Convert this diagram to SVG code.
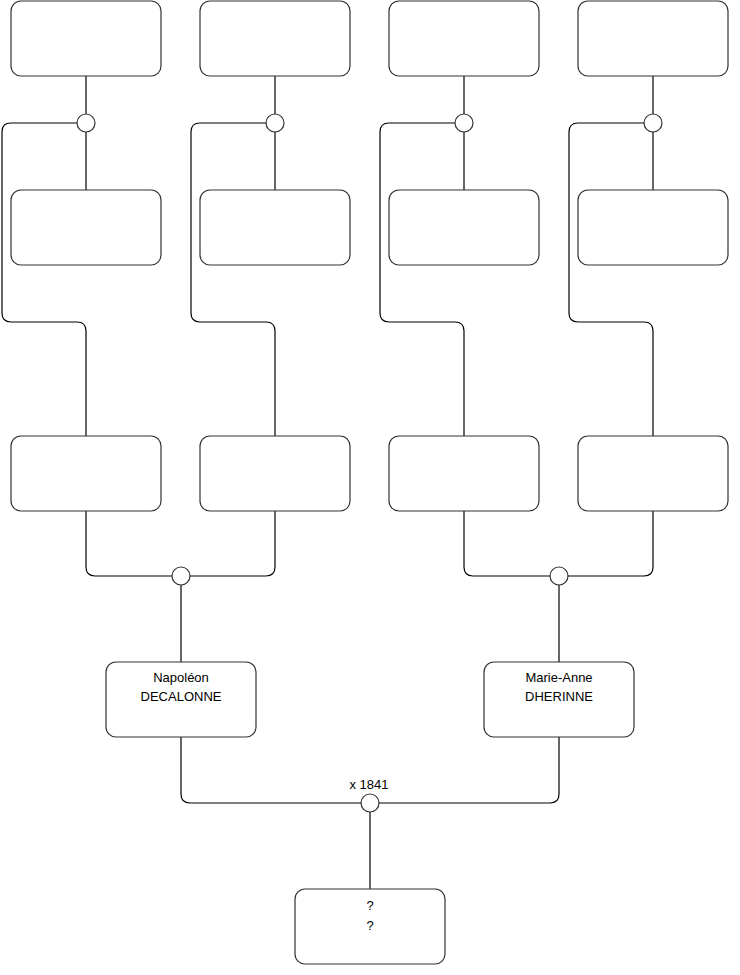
<svg xmlns="http://www.w3.org/2000/svg" width="740" height="975" viewBox="0 0 740 975">
<style>
.box{fill:#fff;stroke:#333;stroke-width:1.2}
.c{fill:#fff;stroke:#333;stroke-width:1.2}
.e{fill:none;stroke:#000;stroke-width:1.2}
text{font-family:"Liberation Sans",Arial,sans-serif;font-size:13px;fill:#000;text-anchor:middle}
</style>
<rect width="740" height="975" fill="#fff"/>
<g id="connectors">
<path class="e" d="M86 76V114"/><path class="e" d="M86 132V190"/>
<path class="e" d="M77 123H11Q2 123 2 132V313Q2 322 11 322H77Q86 322 86 331V436"/>
<path class="e" d="M275 76V114"/><path class="e" d="M275 132V190"/>
<path class="e" d="M266 123H200Q191 123 191 132V313Q191 322 200 322H266Q275 322 275 331V436"/>
<path class="e" d="M464 76V114"/><path class="e" d="M464 132V190"/>
<path class="e" d="M455 123H389Q380 123 380 132V313Q380 322 389 322H455Q464 322 464 331V436"/>
<path class="e" d="M653 76V114"/><path class="e" d="M653 132V190"/>
<path class="e" d="M644 123H578Q569 123 569 132V313Q569 322 578 322H644Q653 322 653 331V436"/>
<path class="e" d="M86 511V567Q86 576 95 576H172"/>
<path class="e" d="M275 511V567Q275 576 266 576H190"/>
<path class="e" d="M181 585V662"/>
<path class="e" d="M464 511V567Q464 576 473 576H550"/>
<path class="e" d="M653 511V567Q653 576 644 576H568"/>
<path class="e" d="M559 585V662"/>
<path class="e" d="M181 737V794Q181 803 190 803H361"/>
<path class="e" d="M559 737V794Q559 803 550 803H379"/>
<path class="e" d="M370 812V889"/>
</g>
<g id="n1"><rect class="box" x="11" y="1" width="150" height="75" rx="10"/></g>
<g id="n2"><rect class="box" x="200" y="1" width="150" height="75" rx="10"/></g>
<g id="n3"><rect class="box" x="389" y="1" width="150" height="75" rx="10"/></g>
<g id="n4"><rect class="box" x="578" y="1" width="150" height="75" rx="10"/></g>
<g id="u1"><circle class="c" cx="86" cy="123" r="9"/></g>
<g id="u2"><circle class="c" cx="275" cy="123" r="9"/></g>
<g id="u3"><circle class="c" cx="464" cy="123" r="9"/></g>
<g id="u4"><circle class="c" cx="653" cy="123" r="9"/></g>
<g id="n5"><rect class="box" x="11" y="190" width="150" height="75" rx="10"/></g>
<g id="n6"><rect class="box" x="200" y="190" width="150" height="75" rx="10"/></g>
<g id="n7"><rect class="box" x="389" y="190" width="150" height="75" rx="10"/></g>
<g id="n8"><rect class="box" x="578" y="190" width="150" height="75" rx="10"/></g>
<g id="n9"><rect class="box" x="11" y="436" width="150" height="75" rx="10"/></g>
<g id="n10"><rect class="box" x="200" y="436" width="150" height="75" rx="10"/></g>
<g id="n11"><rect class="box" x="389" y="436" width="150" height="75" rx="10"/></g>
<g id="n12"><rect class="box" x="578" y="436" width="150" height="75" rx="10"/></g>
<g id="u5"><circle class="c" cx="181" cy="576" r="9"/></g>
<g id="u6"><circle class="c" cx="559" cy="576" r="9"/></g>
<g id="napoleon"><rect class="box" x="106" y="662" width="150" height="75" rx="10"/><text x="181" y="682">Napoléon</text><text x="181" y="701">DECALONNE</text></g>
<g id="marieanne"><rect class="box" x="484" y="662" width="150" height="75" rx="10"/><text x="559" y="682">Marie-Anne</text><text x="559" y="701">DHERINNE</text></g>
<g id="u7"><circle class="c" cx="370" cy="803" r="9"/><text x="369" y="789">x 1841</text></g>
<g id="child"><rect class="box" x="295" y="889" width="150" height="75" rx="10"/><text x="370" y="910">?</text><text x="370" y="930">?</text></g>
</svg>
